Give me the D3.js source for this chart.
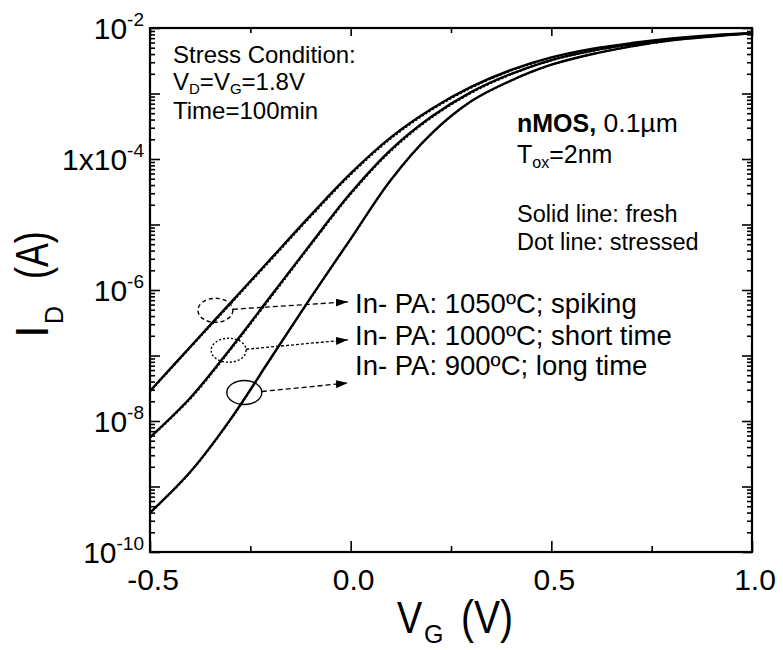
<!DOCTYPE html>
<html><head><meta charset="utf-8">
<script src="https://cdn.jsdelivr.net/npm/d3@7"></script>
<style>
body{margin:0;background:#fff}
svg{display:block}
text{font-family:"Liberation Sans",Arial,Helvetica,sans-serif;fill:#000;white-space:pre}
</style>
</head><body>
<svg id="c" width="783" height="650"></svg>
<script>
// ---------------- data ----------------
const vg = [-0.5,-0.4,-0.3,-0.2,-0.1,0.0,0.1,0.2,0.3,0.4,0.5,0.6,0.7,0.8,0.9,1.0];
// 1050ºC spiking
const fresh1050    = [2.88e-8,1.35e-7,6.31e-7,2.95e-6,1.38e-5,6.03e-5,2.14e-4,5.75e-4,1.26e-3,2.29e-3,3.55e-3,4.79e-3,5.89e-3,6.92e-3,7.76e-3,8.3e-3];
const stressed1050 = [2.8e-8,1.3e-7,6.0e-7,2.8e-6,1.3e-5,5.7e-5,2.03e-4,5.5e-4,1.21e-3,2.22e-3,3.46e-3,4.7e-3,5.82e-3,6.86e-3,7.72e-3,8.3e-3];
// 1000ºC short time
const fresh1000    = [5.62e-9,2.24e-8,1.26e-7,7.94e-7,5.01e-6,3.02e-5,1.38e-4,4.37e-4,1.05e-3,2.0e-3,3.24e-3,4.47e-3,5.62e-3,6.61e-3,7.59e-3,8.3e-3];
const stressed1000 = [5.5e-9,2.15e-8,1.2e-7,7.5e-7,4.75e-6,2.87e-5,1.31e-4,4.18e-4,1.01e-3,1.94e-3,3.17e-3,4.4e-3,5.57e-3,6.57e-3,7.56e-3,8.3e-3];
// 900ºC long time
const fresh900     = [3.98e-10,1.66e-9,1.05e-8,8.91e-8,7.59e-7,6.03e-6,4.79e-5,2.40e-4,7.59e-4,1.58e-3,2.75e-3,3.98e-3,5.25e-3,6.46e-3,7.41e-3,8.3e-3];
const stressed900  = [3.9e-10,1.62e-9,1.02e-8,8.7e-8,7.4e-7,5.9e-6,4.7e-5,2.36e-4,7.5e-4,1.56e-3,2.73e-3,3.96e-3,5.23e-3,6.44e-3,7.4e-3,8.3e-3];

const xMajor = [-0.5,0.0,0.5,1.0];
const xMinor = [-0.25,0.25,0.75];
const xTickLabels = ["-0.5","0.0","0.5","1.0"];
const yLabelExp = [-2,-4,-6,-8,-10];
const yLabelBase = ["10","1x10","10","10","10"];
const seriesLabels = ["In- PA: 1050ºC; spiking","In- PA: 1000ºC; short time","In- PA: 900ºC; long time"];
// annotation anchors (data units): ellipse centre V, log10 I ; arrow end log10 I ; label log10 I
const ellV   = [-0.337,-0.304,-0.265];
const ellLog = [-6.31,-6.92,-7.565];
const arrLog = [-6.18,-6.76,-7.42];
const lblLog = [-6.35,-6.84,-7.30];

// ---------------- layout ----------------
const L=150, R=752, T=28, B=552;
const svg = d3.select("#c");
const x = d3.scaleLinear().domain([-0.5,1.0]).range([L,R]);
const y = d3.scaleLog().domain([1e-10,1e-2]).range([B,T]);

const yMajorVals = d3.range(-10,-1).map(e=>Math.pow(10,e));
const yMinorVals = [];
for(let e=-10;e<-2;e++) for(let k=2;k<=9;k++) yMinorVals.push(k*Math.pow(10,e));

function axisG(){ return svg.append("g"); }
axisG().attr("transform",`translate(${L},0)`).call(d3.axisLeft(y).tickValues(yMajorVals).tickSize(-10).tickFormat(""));
axisG().attr("transform",`translate(${L},0)`).call(d3.axisLeft(y).tickValues(yMinorVals).tickSize(-5).tickFormat(""));
axisG().attr("transform",`translate(${R},0)`).call(d3.axisRight(y).tickValues(yMajorVals).tickSize(-10).tickFormat(""));
axisG().attr("transform",`translate(${R},0)`).call(d3.axisRight(y).tickValues(yMinorVals).tickSize(-5).tickFormat(""));
axisG().attr("transform",`translate(0,${B})`).call(d3.axisBottom(x).tickValues(xMajor).tickSize(-11).tickFormat(""));
axisG().attr("transform",`translate(0,${B})`).call(d3.axisBottom(x).tickValues(xMinor).tickSize(-6).tickFormat(""));
axisG().attr("transform",`translate(0,${T})`).call(d3.axisTop(x).tickValues(xMajor).tickSize(-8).tickFormat(""));
axisG().attr("transform",`translate(0,${T})`).call(d3.axisTop(x).tickValues(xMinor).tickSize(-5).tickFormat(""));
svg.selectAll(".domain").remove();
svg.selectAll(".tick line").attr("stroke","#000").attr("stroke-width",1.6);

svg.append("rect").attr("x",L).attr("y",T).attr("width",R-L).attr("height",B-T)
  .attr("fill","none").attr("stroke","#000").attr("stroke-width",2.2);

xMajor.forEach((v,i)=>{
  svg.append("text").attr("x",x(v)+3).attr("y",590).attr("text-anchor","middle")
    .attr("font-size",30).text(xTickLabels[i]);
});
yLabelExp.forEach((e,i)=>{
  const t = svg.append("text").attr("x",144).attr("y",y(Math.pow(10,e))+11).attr("text-anchor","end").attr("font-size",30);
  t.append("tspan").text(yLabelBase[i]);
  t.append("tspan").attr("dy",-13).attr("font-size",19).text(String(e));
});

// axis titles
const yt = svg.append("g").attr("transform","translate(48,338) rotate(-90)");
yt.append("text").attr("x",0).attr("y",0).attr("font-size",46).text("I");
yt.append("text").attr("x",14).attr("y",15).attr("font-size",25).text("D");
yt.append("text").attr("y",0).attr("font-size",46).attr("transform","scale(0.78,1)").attr("x",59/0.78).text("(A)");

const xt = svg.append("g");
xt.append("text").attr("x",397).attr("y",633).attr("font-size",44).attr("transform","translate(397,0) scale(0.86,1) translate(-397,0)").text("V");
xt.append("text").attr("x",424).attr("y",643).attr("font-size",25).text("G");
xt.append("text").attr("x",461).attr("y",633).attr("font-size",46).attr("transform","translate(461,0) scale(0.85,1) translate(-461,0)").text("(V)");

// curves
const line = d3.line().x((d,i)=>x(vg[i])).y(d=>y(d)).curve(d3.curveCatmullRom.alpha(0.5));
svg.append("clipPath").attr("id","pc").append("rect").attr("x",L).attr("y",T).attr("width",R-L).attr("height",B-T);
const cg = svg.append("g").attr("clip-path","url(#pc)");
[fresh1050,fresh1000,fresh900].forEach(s=>{
  cg.append("path").attr("d",line(s)).attr("fill","none").attr("stroke","#000").attr("stroke-width",2.4);
});
[stressed1050,stressed1000,stressed900].forEach(s=>{
  cg.append("path").attr("d",line(s)).attr("fill","none").attr("stroke","#000").attr("stroke-width",1.6).attr("stroke-dasharray","2,2");
});

// annotations
const defs = svg.append("defs");
defs.append("marker").attr("id","ah").attr("viewBox","0 0 12 8").attr("refX",12).attr("refY",4)
  .attr("markerWidth",12).attr("markerHeight",8).attr("markerUnits","userSpaceOnUse").attr("orient","auto")
  .append("path").attr("d","M0,0 L12,4 L0,8 Z").attr("fill","#000");
const ellDash = ["4,3","2,2",null];
const arrDash = ["5,3","3,2","5,3"];
ellV.forEach((v,i)=>{
  const cx = x(v), cy = y(Math.pow(10,ellLog[i]));
  const e = svg.append("ellipse").attr("cx",cx).attr("cy",cy).attr("rx",17.5).attr("ry",12)
    .attr("fill","none").attr("stroke","#000").attr("stroke-width",1.4);
  if(ellDash[i]) e.attr("stroke-dasharray",ellDash[i]);
  svg.append("line").attr("x1",cx+17.5).attr("y1",cy-1).attr("x2",x(-0.007)).attr("y2",y(Math.pow(10,arrLog[i])))
    .attr("stroke","#000").attr("stroke-width",1.3).attr("stroke-dasharray",arrDash[i]).attr("marker-end","url(#ah)");
  svg.append("text").attr("x",x(0.011)).attr("y",y(Math.pow(10,lblLog[i]))).attr("font-size",27.5).text(seriesLabels[i]);
});

// text blocks
const s1 = svg.append("text").attr("font-size",24);
s1.append("tspan").attr("x",173).attr("y",63).text("Stress Condition:");
const s2 = svg.append("text").attr("x",173).attr("y",90).attr("font-size",24);
s2.append("tspan").text("V");
s2.append("tspan").attr("font-size",15).attr("dy",4).text("D");
s2.append("tspan").attr("dy",-4).text("=V");
s2.append("tspan").attr("font-size",15).attr("dy",4).text("G");
s2.append("tspan").attr("dy",-4).text("=1.8V");
svg.append("text").attr("x",173).attr("y",119).attr("font-size",24).text("Time=100min");

const n1 = svg.append("text").attr("x",517).attr("y",132).attr("font-size",25);
n1.append("tspan").attr("font-weight","bold").text("nMOS,");
n1.append("tspan").attr("font-size",26.5).text(" 0.1µm");
const n2 = svg.append("text").attr("x",517).attr("y",163).attr("font-size",25);
n2.append("tspan").text("T");
n2.append("tspan").attr("font-size",16).attr("dy",5).text("ox");
n2.append("tspan").attr("dy",-5).text("=2nm");
svg.append("text").attr("x",517).attr("y",222).attr("font-size",23.5).text("Solid line: fresh");
svg.append("text").attr("x",517).attr("y",250).attr("font-size",23.5).text("Dot line: stressed");
</script>
</body></html>
